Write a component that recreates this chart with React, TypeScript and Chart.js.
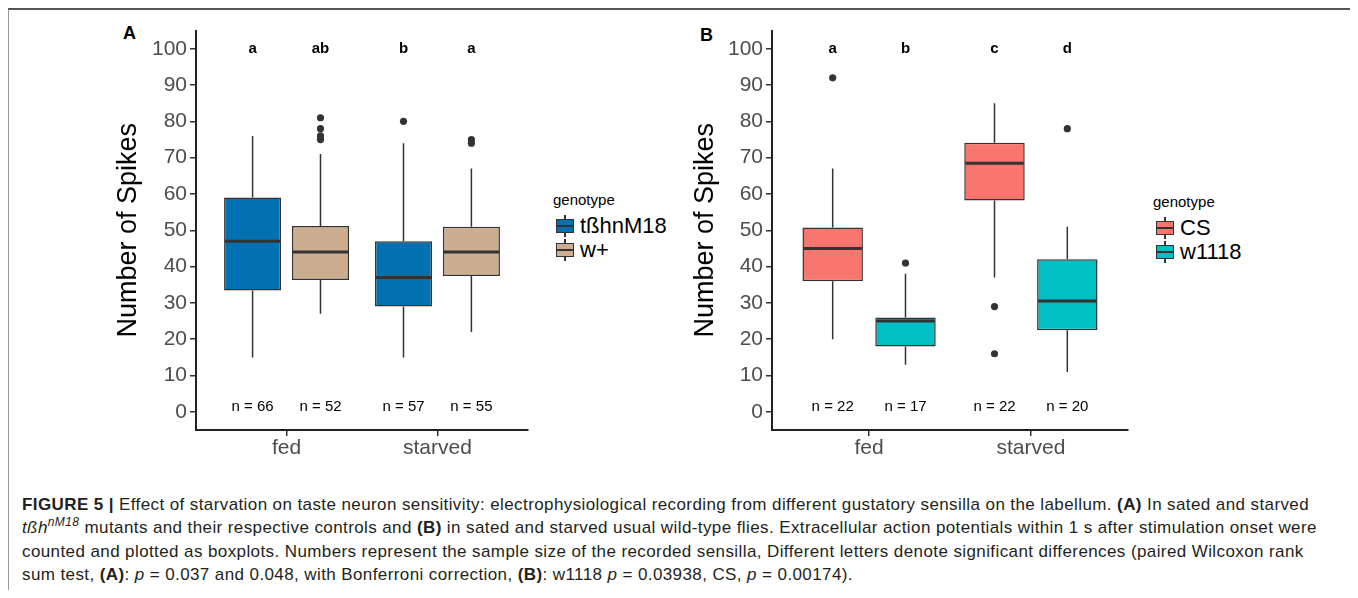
import React, { useEffect, useRef } from 'react';
import { Chart, registerables } from 'chart.js';

Chart.register(...registerables);

const FONT = "'Liberation Sans', Arial, Helvetica, sans-serif";

// ---------- shared ----------
const categories = ['fed', 'starved'];
const yTickValues = [0, 10, 20, 30, 40, 50, 60, 70, 80, 90, 100];

// ---------- Panel A ----------
const seriesA = ['tßhnM18', 'w+'];
const colorsA = ['#0072B2', '#CDAD90'];
const aTbhLow = [15, 15];
const aTbhQ1 = [33.4, 29];
const aTbhMed = [47, 37];
const aTbhQ3 = [59, 47];
const aTbhHigh = [76, 74];
const aTbhOut = [[], [80]];
const aTbhLetters = ['a', 'b'];
const aTbhN = [66, 57];

const aWLow = [27, 22];
const aWQ1 = [36.3, 37.4];
const aWMed = [44, 44];
const aWQ3 = [51.2, 51];
const aWHigh = [71, 67];
const aWOut = [[81, 78, 76, 75], [75, 74]];
const aWLetters = ['ab', 'a'];
const aWN = [52, 55];

// ---------- Panel B ----------
const seriesB = ['CS', 'w1118'];
const colorsB = ['#F8766D', '#00BFC4'];
const bCsLow = [20, 37];
const bCsQ1 = [36, 58.2];
const bCsMed = [45, 68.5];
const bCsQ3 = [50.8, 74.1];
const bCsHigh = [67, 85];
const bCsOut = [[92], [29, 16]];
const bCsLetters = ['a', 'c'];
const bCsN = [22, 22];

const bWLow = [13, 11];
const bWQ1 = [18, 22.5];
const bWMed = [25, 30.5];
const bWQ3 = [26, 42];
const bWHigh = [38, 51];
const bWOut = [[41], [78]];
const bWLetters = ['b', 'd'];
const bWN = [17, 20];

type BoxSeries = {
  label: string;
  color: string;
  low: number[];
  q1: number[];
  med: number[];
  q3: number[];
  high: number[];
  out: number[][];
  letters: string[];
  n: number[];
};

const panelA: BoxSeries[] = [
  { label: seriesA[0], color: colorsA[0], low: aTbhLow, q1: aTbhQ1, med: aTbhMed, q3: aTbhQ3, high: aTbhHigh, out: aTbhOut, letters: aTbhLetters, n: aTbhN },
  { label: seriesA[1], color: colorsA[1], low: aWLow, q1: aWQ1, med: aWMed, q3: aWQ3, high: aWHigh, out: aWOut, letters: aWLetters, n: aWN },
];
const panelB: BoxSeries[] = [
  { label: seriesB[0], color: colorsB[0], low: bCsLow, q1: bCsQ1, med: bCsMed, q3: bCsQ3, high: bCsHigh, out: bCsOut, letters: bCsLetters, n: bCsN },
  { label: seriesB[1], color: colorsB[1], low: bWLow, q1: bWQ1, med: bWMed, q3: bWQ3, high: bWHigh, out: bWOut, letters: bWLetters, n: bWN },
];

const boxPlugin = (series: BoxSeries[]) => ({
  id: 'boxExtras',
  beforeDatasetsDraw(chart: any) {
    const ctx = chart.ctx;
    const y = chart.scales.y;
    series.forEach((s, i) => {
      const meta = chart.getDatasetMeta(i);
      meta.data.forEach((bar: any, j: number) => {
        const x = bar.x;
        ctx.save();
        ctx.strokeStyle = '#333333';
        ctx.lineWidth = 1.5;
        ctx.beginPath();
        ctx.moveTo(x, y.getPixelForValue(s.q3[j]));
        ctx.lineTo(x, y.getPixelForValue(s.high[j]));
        ctx.moveTo(x, y.getPixelForValue(s.q1[j]));
        ctx.lineTo(x, y.getPixelForValue(s.low[j]));
        ctx.stroke();
        ctx.restore();
      });
    });
  },
  afterDatasetsDraw(chart: any) {
    const ctx = chart.ctx;
    const y = chart.scales.y;
    series.forEach((s, i) => {
      const meta = chart.getDatasetMeta(i);
      meta.data.forEach((bar: any, j: number) => {
        const x = bar.x;
        const w = bar.width;
        ctx.save();
        // median
        ctx.strokeStyle = '#333333';
        ctx.lineWidth = 3;
        const ym = y.getPixelForValue(s.med[j]);
        ctx.beginPath();
        ctx.moveTo(x - w / 2 + 1, ym);
        ctx.lineTo(x + w / 2 - 1, ym);
        ctx.stroke();
        // outliers
        ctx.fillStyle = '#333333';
        s.out[j].forEach((v) => {
          ctx.beginPath();
          ctx.arc(x, y.getPixelForValue(v), 3.6, 0, Math.PI * 2);
          ctx.fill();
        });
        // letters
        ctx.fillStyle = '#000000';
        ctx.textAlign = 'center';
        ctx.textBaseline = 'middle';
        ctx.font = `bold 15px ${FONT}`;
        ctx.fillText(s.letters[j], x, y.getPixelForValue(100));
        ctx.font = `15px ${FONT}`;
        ctx.fillText(`n = ${s.n[j]}`, x, y.getPixelForValue(1.5));
        ctx.restore();
      });
    });
  },
});

type PanelProps = {
  series: BoxSeries[];
  width: number;
  height: number;
  yAxisWidth: number;
  titlePad: number;
  barPct: number;
  style: React.CSSProperties;
};

function BoxPanel({ series, width, height, yAxisWidth, titlePad, barPct, style }: PanelProps) {
  const ref = useRef<HTMLCanvasElement | null>(null);
  useEffect(() => {
    if (!ref.current) return;
    const chart = new Chart(ref.current, {
      type: 'bar',
      data: {
        datasets: series.map((s) => ({
          label: s.label,
          data: categories.map((_, j) => ({ x: j + 1, y: [s.q1[j], s.q3[j]] })),
          backgroundColor: s.color,
          borderColor: '#333333',
          borderWidth: 1.5,
          borderSkipped: false,
          categoryPercentage: 0.9,
          barPercentage: barPct,
        })) as any,
      },
      options: {
        animation: false,
        responsive: false,
        maintainAspectRatio: false,
        events: [],
        layout: { padding: { left: 0, top: 12, right: 12, bottom: 5 } },
        plugins: { legend: { display: false }, tooltip: { enabled: false } },
        scales: {
          x: {
            type: 'linear',
            min: 0.4,
            max: 2.6,
            offset: false,
            afterBuildTicks: (s: any) => {
              s.ticks = categories.map((_, i) => ({ value: i + 1 }));
            },
            afterFit: (s: any) => {
              s.height = 40;
            },
            ticks: {
              callback: (_v: any, i: number) => categories[i],
              font: { size: 21, family: FONT },
              color: '#4D4D4D',
              padding: 0,
              autoSkip: false,
              maxRotation: 0,
            },
            grid: { display: true, offset: false, drawOnChartArea: false, drawTicks: true, tickLength: 6, color: '#333333', lineWidth: 1.5 },
            border: { display: true, color: '#222222', width: 2 },
          },
          y: {
            type: 'linear',
            min: -5,
            max: 105,
            afterBuildTicks: (s: any) => {
              s.ticks = yTickValues.map((v) => ({ value: v }));
            },
            afterFit: (s: any) => {
              s.width = yAxisWidth;
            },
            ticks: {
              font: { size: 21, family: FONT },
              color: '#4D4D4D',
              padding: 3,
              autoSkip: false,
            },
            grid: { display: true, offset: false, drawOnChartArea: false, drawTicks: true, tickLength: 6, color: '#333333', lineWidth: 1.5 },
            border: { display: true, color: '#222222', width: 2 },
            title: {
              display: true,
              text: 'Number of Spikes',
              color: '#000000',
              font: { size: 27, family: FONT },
              padding: { top: titlePad, bottom: 0 },
            },
          },
        } as any,
      },
      plugins: [boxPlugin(series)],
    });
    return () => chart.destroy();
  }, []);
  return <canvas ref={ref} width={width} height={height} style={{ position: 'absolute', width, height, ...style }} />;
}

function LegendKey({ color, left, top }: { color: string; left: number; top: number }) {
  return (
    <div style={{ position: 'absolute', left, top, width: 22, height: 22 }}>
      <div style={{ position: 'absolute', left: 10.25, top: 0, width: 1.5, height: 22, background: '#333' }} />
      <div
        style={{
          position: 'absolute',
          left: 2,
          top: 4,
          width: 18,
          height: 14,
          boxSizing: 'border-box',
          background: color,
          border: '1.5px solid #333',
        }}
      />
      <div style={{ position: 'absolute', left: 2, top: 10, width: 18, height: 2, background: '#333' }} />
    </div>
  );
}

function Legend({ series, left, top }: { series: BoxSeries[]; left: number; top: number }) {
  return (
    <div style={{ position: 'absolute', left, top, fontFamily: FONT, color: '#000' }}>
      <div style={{ position: 'absolute', left: 0, top: -1, fontSize: 15, lineHeight: '18px', whiteSpace: 'nowrap' }}>genotype</div>
      {series.map((s, i) => (
        <React.Fragment key={s.label}>
          <LegendKey color={s.color} left={1} top={23 + i * 24} />
          <div style={{ position: 'absolute', left: 27, top: 21 + i * 24, fontSize: 22, lineHeight: '26px', whiteSpace: 'nowrap' }}>{s.label}</div>
        </React.Fragment>
      ))}
    </div>
  );
}

const captionStyle: React.CSSProperties = {
  position: 'absolute',
  left: 14,
  fontFamily: FONT,
  fontSize: 17,
  letterSpacing: '0.4px',
  lineHeight: '20px',
  color: '#231F20',
  whiteSpace: 'nowrap',
};

export default function App() {
  // container origin is page (8,8)
  return (
    <div style={{ position: 'relative', width: 1342, height: 582, overflow: 'hidden', background: '#fff' }}>
      <div
        style={{
          position: 'absolute',
          left: -1,
          top: 0,
          width: 1347,
          height: 600,
          boxSizing: 'border-box',
          borderTop: '2px solid #555',
          borderLeft: '2px solid #999',
          borderRight: '2px solid #999',
        }}
      />
      <div style={{ position: 'absolute', left: 115, top: 15, fontFamily: FONT, fontWeight: 'bold', fontSize: 18, lineHeight: '20px' }}>A</div>
      <div style={{ position: 'absolute', left: 692, top: 17, fontFamily: FONT, fontWeight: 'bold', fontSize: 18, lineHeight: '20px' }}>B</div>

      <BoxPanel series={panelA} width={440} height={460} yAxisWidth={96} titlePad={12} barPct={0.84} style={{ left: 92, top: 7 }} />
      <BoxPanel series={panelB} width={460} height={460} yAxisWidth={92} titlePad={9} barPct={0.83} style={{ left: 672, top: 7 }} />

      <Legend series={panelA} left={545} top={184} />
      <Legend series={panelB} left={1145} top={186} />

      <div style={{ ...captionStyle, top: 487 }}>
        <b>FIGURE 5 |</b> Effect of starvation on taste neuron sensitivity: electrophysiological recording from different gustatory sensilla on the labellum. <b>(A)</b> In sated and starved
      </div>
      <div style={{ ...captionStyle, top: 510 }}>
        <i>
          tßh<sup style={{ fontSize: 12, lineHeight: 0 }}>nM18</sup>
        </i>{' '}
        mutants and their respective controls and <b>(B)</b> in sated and starved usual wild-type flies. Extracellular action potentials within 1 s after stimulation onset were
      </div>
      <div style={{ ...captionStyle, top: 534 }}>
        counted and plotted as boxplots. Numbers represent the sample size of the recorded sensilla, Different letters denote significant differences (paired Wilcoxon rank
      </div>
      <div style={{ ...captionStyle, top: 557 }}>
        sum test, <b>(A)</b>: <i>p</i> = 0.037 and 0.048, with Bonferroni correction, <b>(B)</b>: w1118 <i>p</i> = 0.03938, CS, <i>p</i> = 0.00174).
      </div>
    </div>
  );
}
